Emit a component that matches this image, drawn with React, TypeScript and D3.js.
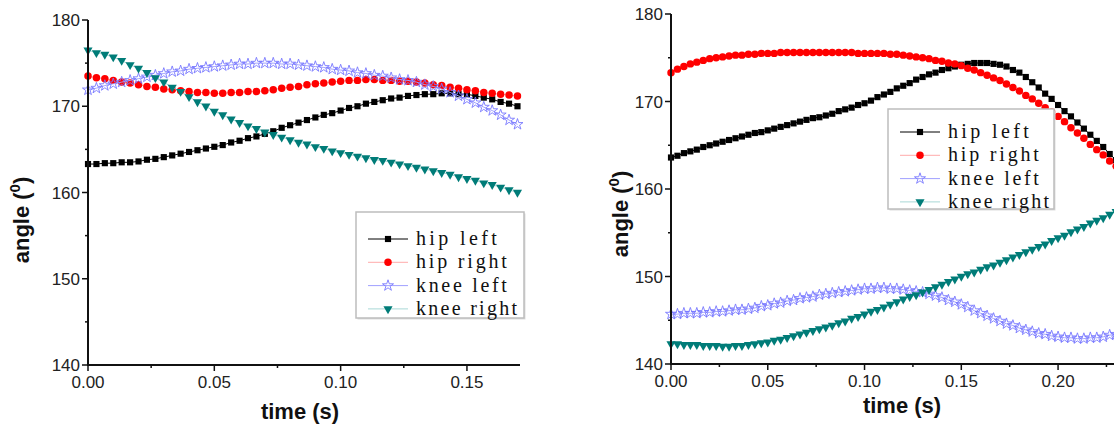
import * as d3 from "d3";

// joint angles (degrees), one sample every 1/300 s
const sampleStep = 1 / 300;
const seriesNames = ["hip left", "hip right", "knee left", "knee right"];

const leftHipLeft = [
  163.3, 163.3, 163.4, 163.4, 163.5, 163.5, 163.6, 163.8, 163.9, 164.1, 164.3, 164.5,
  164.7, 164.9, 165.1, 165.3, 165.5, 165.8, 166.0, 166.3, 166.5, 166.8, 167.1, 167.5,
  167.8, 168.1, 168.4, 168.7, 169.0, 169.2, 169.5, 169.8, 170.0, 170.3, 170.5, 170.7,
  170.9, 171.0, 171.2, 171.3, 171.4, 171.4, 171.5, 171.5, 171.4, 171.4, 171.2, 171.0,
  170.8, 170.5, 170.3, 170.0,
];
const leftHipRight = [
  173.5, 173.3, 173.2, 173.0, 172.8, 172.7, 172.5, 172.3, 172.2, 172.0, 171.9, 171.8,
  171.7, 171.6, 171.6, 171.5, 171.5, 171.6, 171.6, 171.7, 171.7, 171.8, 171.9, 172.1,
  172.2, 172.3, 172.5, 172.6, 172.7, 172.8, 172.9, 173.0, 173.0, 173.1, 173.1, 173.0,
  173.0, 172.9, 172.9, 172.8, 172.7, 172.5, 172.4, 172.2, 172.1, 171.9, 171.8, 171.6,
  171.5, 171.4, 171.3, 171.2,
];
const leftKneeLeft = [
  171.9, 172.1, 172.4, 172.6, 172.8, 173.0, 173.2, 173.4, 173.6, 173.8, 174.0, 174.1,
  174.3, 174.4, 174.5, 174.6, 174.7, 174.8, 174.9, 174.9, 175.0, 175.0, 175.0, 174.9,
  174.9, 174.8, 174.7, 174.6, 174.5, 174.3, 174.2, 174.1, 173.9, 173.8, 173.6, 173.5,
  173.3, 173.1, 173.0, 172.8, 172.5, 172.3, 172.0, 171.6, 171.2, 170.8, 170.4, 169.9,
  169.5, 169.0, 168.4, 167.9,
];
const leftKneeRight = [
  176.5, 176.2, 176.0, 175.7, 175.3, 174.8, 174.4, 173.9, 173.3, 172.8, 172.2, 171.7,
  171.1, 170.5, 170.0, 169.4, 169.0, 168.5, 168.1, 167.7, 167.4, 167.0, 166.7, 166.4,
  166.1, 165.8, 165.6, 165.3, 165.1, 164.8, 164.6, 164.4, 164.2, 164.0, 163.8, 163.7,
  163.5, 163.3, 163.1, 162.9, 162.7, 162.5, 162.3, 162.1, 161.8, 161.6, 161.4, 161.1,
  160.9, 160.6, 160.3, 160.0,
];

const rightHipLeft = [
  163.6, 163.8, 164.1, 164.3, 164.5, 164.8, 165.0, 165.2, 165.4, 165.6, 165.8, 166.0,
  166.2, 166.4, 166.5, 166.7, 166.9, 167.1, 167.3, 167.5, 167.7, 167.9, 168.1, 168.2,
  168.4, 168.6, 168.9, 169.1, 169.3, 169.6, 169.8, 170.1, 170.5, 170.8, 171.1, 171.5,
  171.8, 172.1, 172.5, 172.8, 173.1, 173.3, 173.6, 173.8, 174.0, 174.2, 174.3, 174.4,
  174.4, 174.4, 174.3, 174.2, 174.0, 173.6, 173.3, 172.8, 172.2, 171.6, 170.9, 170.3,
  169.6, 168.9, 168.3, 167.6, 166.9, 166.2, 165.5, 164.8, 164.0, 163.3,
];
const rightHipRight = [
  173.3, 173.7, 174.0, 174.3, 174.5, 174.7, 174.9, 175.0, 175.1, 175.2, 175.3, 175.3,
  175.4, 175.4, 175.5, 175.5, 175.5, 175.6, 175.6, 175.6, 175.6, 175.6, 175.6, 175.6,
  175.6, 175.6, 175.6, 175.6, 175.6, 175.5, 175.5, 175.5, 175.5, 175.5, 175.4, 175.4,
  175.3, 175.2, 175.1, 175.0, 174.9, 174.7, 174.6, 174.4, 174.3, 174.1, 173.8, 173.6,
  173.3, 173.0, 172.7, 172.4, 172.0, 171.6, 171.2, 170.7, 170.3, 169.8, 169.3, 168.8,
  168.3, 167.7, 167.0, 166.4, 165.8, 165.1, 164.5, 163.9, 163.2, 162.6,
];
const rightKneeLeft = [
  145.7, 145.7, 145.8, 145.8, 145.8, 145.9, 145.9, 146.0, 146.0, 146.1, 146.2, 146.2,
  146.3, 146.4, 146.6, 146.7, 146.9, 147.0, 147.2, 147.3, 147.5, 147.6, 147.7, 147.9,
  148.0, 148.1, 148.2, 148.3, 148.4, 148.5, 148.6, 148.6, 148.7, 148.7, 148.6, 148.6,
  148.5, 148.4, 148.3, 148.2, 148.0, 147.8, 147.6, 147.3, 147.1, 146.8, 146.5, 146.1,
  145.8, 145.5, 145.2, 144.9, 144.6, 144.4, 144.1, 143.9, 143.7, 143.5, 143.4, 143.2,
  143.1, 143.0, 143.0, 142.9, 142.9, 143.0, 143.0, 143.1, 143.3, 143.4,
];
const rightKneeRight = [
  142.3, 142.3, 142.2, 142.2, 142.2, 142.1, 142.1, 142.1, 142.0, 142.0, 142.1, 142.1,
  142.2, 142.3, 142.4, 142.5, 142.7, 142.8, 143.0, 143.2, 143.4, 143.6, 143.8, 144.0,
  144.2, 144.4, 144.7, 144.9, 145.2, 145.4, 145.7, 146.0, 146.2, 146.5, 146.8, 147.1,
  147.4, 147.7, 147.9, 148.2, 148.5, 148.8, 149.1, 149.4, 149.7, 150.0, 150.3, 150.5,
  150.8, 151.1, 151.3, 151.6, 151.9, 152.2, 152.5, 152.8, 153.1, 153.4, 153.7, 154.1,
  154.4, 154.7, 155.1, 155.4, 155.7, 156.1, 156.4, 156.7, 157.1, 157.4,
];

const yTicks = [140, 150, 160, 170, 180];
const leftXTicks = [0, 0.05, 0.1, 0.15];
const rightXTicks = [0, 0.05, 0.1, 0.15, 0.2];

const markers = [
  { symbol: d3.symbolSquare, size: 38, fill: "#000", stroke: "none", line: "#000", rot: 0 },
  { symbol: d3.symbolCircle, size: 44, fill: "#ff0000", stroke: "none", line: "#ffaaaa", rot: 0 },
  { symbol: d3.symbolStar, size: 38, fill: "none", stroke: "#7878ff", line: "#a0a0ff", rot: 0 },
  { symbol: d3.symbolTriangle, size: 36, fill: "#007c78", stroke: "none", line: "#a8d8d6", rot: 180 },
];

const tickFont = "'Liberation Sans', Arial, sans-serif";
const legendFont = "'Liberation Serif', 'Times New Roman', serif";

function Panel(props) {
  const { data, xMax, xRange, yRange, xTicks, legend, yTitle, xTitle } = props;
  const x = d3.scaleLinear().domain([0, xMax]).range(xRange);
  const y = d3.scaleLinear().domain([140, 180]).range(yRange);
  const line = d3
    .line<number>()
    .x((_, i) => x(i * sampleStep))
    .y((v) => y(v));
  const minorX = d3.range(0.025, xMax, 0.05);
  const minorY = d3.range(145, 180, 10);

  return (
    <g>
      {data.map((vals, si) => {
        const m = markers[si];
        const path = d3.symbol().type(m.symbol).size(m.size)();
        return (
          <g key={si}>
            <path d={line(vals)} fill="none" stroke={m.line} strokeWidth={1} />
            {vals.map((v, i) => (
              <path
                key={i}
                d={path}
                transform={`translate(${x(i * sampleStep)},${y(v)}) rotate(${m.rot})`}
                fill={m.fill}
                stroke={m.stroke}
                strokeWidth={0.9}
              />
            ))}
          </g>
        );
      })}

      {/* axes */}
      <line x1={xRange[0]} x2={xRange[0]} y1={yRange[0] + 1} y2={yRange[1]} stroke="#111" strokeWidth={2} />
      <line x1={xRange[0] - 1} x2={xRange[1]} y1={yRange[0]} y2={yRange[0]} stroke="#111" strokeWidth={2} />
      {yTicks.map((t) => (
        <g key={t}>
          <line x1={xRange[0] - 6} x2={xRange[0]} y1={y(t)} y2={y(t)} stroke="#111" strokeWidth={1.5} />
          <text x={xRange[0] - 8} y={y(t) + 6} textAnchor="end" fontFamily={tickFont} fontSize={17} fill="#222">
            {t}
          </text>
        </g>
      ))}
      {minorY.map((t) => (
        <line key={t} x1={xRange[0] - 3} x2={xRange[0]} y1={y(t)} y2={y(t)} stroke="#111" strokeWidth={1.5} />
      ))}
      {xTicks.map((t) => (
        <g key={t}>
          <line x1={x(t)} x2={x(t)} y1={yRange[0]} y2={yRange[0] + 6} stroke="#111" strokeWidth={1.5} />
          <text x={x(t)} y={yRange[0] + 23} textAnchor="middle" fontFamily={tickFont} fontSize={17} fill="#222">
            {d3.format(".2f")(t)}
          </text>
        </g>
      ))}
      {minorX.map((t) => (
        <line key={t} x1={x(t)} x2={x(t)} y1={yRange[0]} y2={yRange[0] + 3} stroke="#111" strokeWidth={1.5} />
      ))}

      {/* axis titles */}
      <text
        transform={`translate(${yTitle[0]},${yTitle[1]}) rotate(-90)`}
        textAnchor="middle"
        fontFamily={tickFont}
        fontWeight="bold"
        fontSize={22}
        fill="#111"
      >
        angle (<tspan dy={-9} fontSize={15}>0</tspan>
        <tspan dy={9}>)</tspan>
      </text>
      <text x={xTitle[0]} y={xTitle[1]} textAnchor="middle" fontFamily={tickFont} fontWeight="bold" fontSize={22} fill="#111">
        time (s)
      </text>

      {/* legend */}
      <rect x={legend.x + 1.5} y={legend.y + 1.5} width={legend.w} height={legend.h} fill="#ddd" />
      <rect x={legend.x} y={legend.y} width={legend.w} height={legend.h} fill="#fff" stroke="#bdbdbd" strokeWidth={1.5} />
      {seriesNames.map((name, si) => {
        const m = markers[si];
        const cy = legend.y + legend.top + si * 23.3;
        return (
          <g key={name}>
            <line x1={legend.x + 12} x2={legend.x + 52} y1={cy} y2={cy} stroke={m.line} strokeWidth={1} />
            <path
              d={d3.symbol().type(m.symbol).size(m.size)()}
              transform={`translate(${legend.x + 32},${cy}) rotate(${m.rot})`}
              fill={m.fill}
              stroke={m.stroke}
              strokeWidth={0.9}
            />
            <text
              x={legend.x + 60}
              y={cy + 6}
              fontFamily={legendFont}
              fontSize={20}
              fill="#111"
              textLength={name.length * 10.1}
              lengthAdjust="spacing"
            >
              {name}
            </text>
          </g>
        );
      })}
    </g>
  );
}

export default function App() {
  return (
    <svg
      width={1114}
      height={429}
      style={{ position: "absolute", left: 0, top: 0, background: "#fff" }}
    >
      <Panel
        data={[leftHipLeft, leftHipRight, leftKneeLeft, leftKneeRight]}
        xMax={0.171}
        xRange={[88, 520]}
        yRange={[365, 20]}
        xTicks={leftXTicks}
        legend={{ x: 356, y: 212, w: 168, h: 106, top: 27 }}
        yTitle={[29, 220]}
        xTitle={[300, 419]}
      />
      <Panel
        data={[rightHipLeft, rightHipRight, rightKneeLeft, rightKneeRight]}
        xMax={0.232}
        xRange={[671, 1120]}
        yRange={[364, 14]}
        xTicks={rightXTicks}
        legend={{ x: 888, y: 109, w: 166, h: 100, top: 23 }}
        yTitle={[628, 214]}
        xTitle={[902, 413]}
      />
    </svg>
  );
}
